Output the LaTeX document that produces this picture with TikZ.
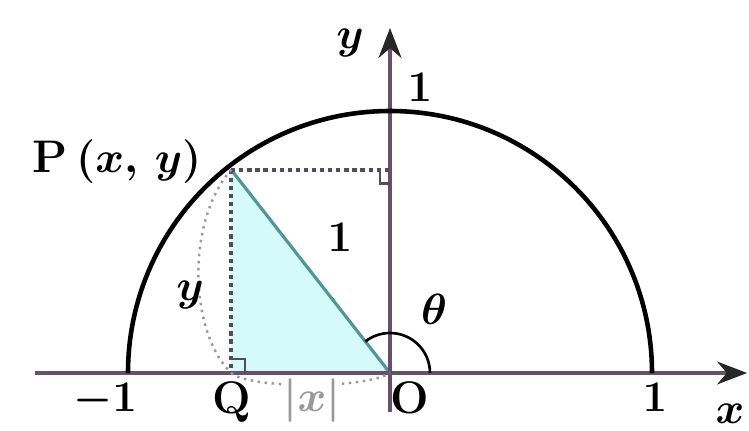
\documentclass[tikz,border=0pt]{standalone}
\usepackage{amsmath}
\usetikzlibrary{arrows.meta,calc}
\definecolor{axiscol}{RGB}{105,80,105}
\definecolor{tricol}{RGB}{212,250,250}
\definecolor{hypcol}{RGB}{80,150,150}
\definecolor{dotcol}{RGB}{85,75,95}
\tikzset{
  lbl/.style={anchor=base, inner sep=0pt, font=\fontsize{26}{30}\selectfont\bfseries\boldmath},
  axisline/.style={draw=axiscol, line width=2pt, -{Stealth[length=17pt,width=13pt,color=black!85]}},
  dotline/.style={draw=dotcol, line width=2.4pt, dash pattern=on 2.4pt off 2.2pt},
  thindot/.style={draw=gray!80, line width=1.4pt, dash pattern=on 1.4pt off 2.6pt},
}

\begin{document}
\begin{tikzpicture}[x=0.02cm,y=0.02cm]
\useasboundingbox (-390,-57) rectangle (359,373);
\coordinate (O) at (0,0);
\coordinate (P) at (128:258);
\coordinate (Q) at (P |- O);
\coordinate (Py) at (P -| O);
\coordinate (xl) at (-355,0);
\coordinate (xr) at (357,0);
\coordinate (yb) at (0,-39);
\coordinate (yt) at (0,345);
% triangle
\fill[tricol] (P) -- (Q) -- (O) -- cycle;
\draw[hypcol, line width=1.8pt] (P) -- (O);
% axes
\draw[axisline] (xl) -- (xr);
\draw[axisline] (yb) -- (yt);
% semicircle
\draw[line width=2.6pt] (262,0) arc[start angle=0, end angle=180, radius=262];
% projections
\draw[dotline] (P) -- (Q);
\draw[dotline] (P) -- (Py);
\draw[dotcol, line width=1.4pt] ($(Q)+(0,14)$) -- ++(14,0) -- ++(0,-14);
\draw[dotcol, line width=1.4pt] ($(Py)+(0,-14)$) -- ++(-10,0) -- ++(0,14);
% lengths
\draw[thindot] (P) .. controls (-205,150) and (-200,40) .. (Q);
\draw[thindot] (Q) .. controls (-140,-16) and (-25,-16) .. (O);
% angle
\draw[line width=1.5pt] (40,0) arc[start angle=0, end angle=128, radius=40];
% labels
\node[lbl] (lP) at (-273,201) {P$\,(x,\,y)$};
\node[lbl] (ly) at (-200,73) {$y$};
\node[lbl] (lh) at (-50,122) {$1$};
\node[lbl] (ltop) at (30,272) {$1$};
\node[lbl] (lyax) at (-40,325) {$y$};
\node[lbl] (lth) at (44,49) {$\theta$};
\node[lbl] (lm) at (-285,-38) {$-1$};
\node[lbl] (lQ) at (-158,-40) {Q};
\node[lbl, fill=white, inner sep=1pt, text=gray!80] (lx) at (-78,-38) {$|x|$};
\node[lbl] (lO) at (20,-40) {O};
\node[lbl] (lone) at (265,-38) {$1$};
\node[lbl] (lxax) at (340,-50) {$x$};
\end{tikzpicture}
\end{document}
